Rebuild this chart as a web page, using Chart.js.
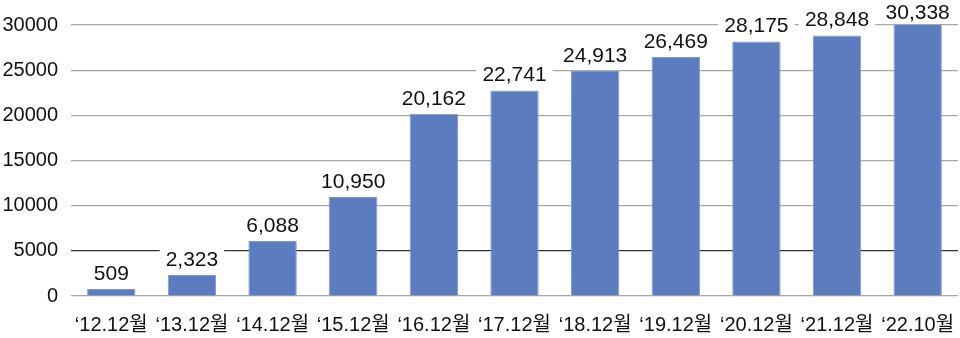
<!DOCTYPE html>
<html><head><meta charset="utf-8">
<script src="https://cdn.jsdelivr.net/npm/chart.js@4/dist/chart.umd.min.js"></script>
<style>html,body{margin:0;padding:0;background:#fff}#w{width:960px;height:338px}</style>
</head><body><div id="w"><canvas id="c"></canvas></div>
<script>
const categories = ["‘12.12월","‘13.12월","‘14.12월","‘15.12월","‘16.12월","‘17.12월","‘18.12월","‘19.12월","‘20.12월","‘21.12월","‘22.10월"];
const values = [509, 2323, 6088, 10950, 20162, 22741, 24913, 26469, 28175, 28848, 30338];
const yTicks = [0, 5000, 10000, 15000, 20000, 25000, 30000];

const labelPlugin = {
  id: 'barLabels',
  afterDatasetsDraw(chart) {
    const ctx = chart.ctx;
    const meta = chart.getDatasetMeta(0);
    ctx.save();
    ctx.font = '21px "Liberation Sans", Arial, sans-serif';
    ctx.textAlign = 'center';
    ctx.textBaseline = 'middle';
    meta.data.forEach((bar, i) => {
      const txt = values[i].toLocaleString('en-US');
      let y = bar.y - 16;
      if (y < 12) y = 12;
      const w = ctx.measureText(txt).width;
      ctx.fillStyle = '#fff';
      ctx.fillRect(bar.x - w/2 - 6, y - 11, w + 12, 22);
      ctx.fillStyle = '#111';
      ctx.fillText(txt, bar.x, y + 1);
    });
    ctx.restore();
  }
};

new Chart(document.getElementById('c'), {
  type: 'bar',
  data: {
    labels: categories,
    datasets: [{
      data: values,
      backgroundColor: '#5b7cbe',
      borderColor: '#7f98cc',
      borderWidth: 1,
      categoryPercentage: 1,
      barPercentage: 0.6,
      minBarLength: 7
    }]
  },
  options: {
    responsive: true,
    maintainAspectRatio: false,
    animation: false,
    layout: { padding: { top: 25, right: 2, left: 0, bottom: 0 } },
    plugins: { legend: { display: false }, tooltip: { enabled: false } },
    scales: {
      x: {
        grid: { display: false, drawTicks: false },
        border: { display: false },
        ticks: { color: '#111', font: { size: 20, family: '"Liberation Sans", "Noto Sans CJK KR", sans-serif' }, padding: 17, maxRotation: 0, autoSkip: false },
        afterFit(s) { s.height = 42; s.paddingLeft = 0; s.paddingRight = 0; }
      },
      y: {
        min: 0, max: 30000,
        afterBuildTicks(s) { s.ticks = yTicks.map(v => ({ value: v })); },
        grid: {
          drawTicks: false,
          color: ctx => ctx.tick && ctx.tick.value === 5000 ? '#333' : '#a8a8a8',
          lineWidth: ctx => ctx.tick && ctx.tick.value === 5000 ? 1.3 : 1.2
        },
        border: { display: false },
        ticks: { color: '#111', font: { size: 20, family: '"Liberation Sans", Arial, sans-serif' }, padding: 13, callback: v => String(v) },
        afterFit(s) { s.width = 71; }
      }
    }
  },
  plugins: [labelPlugin]
});
</script>
</body></html>
